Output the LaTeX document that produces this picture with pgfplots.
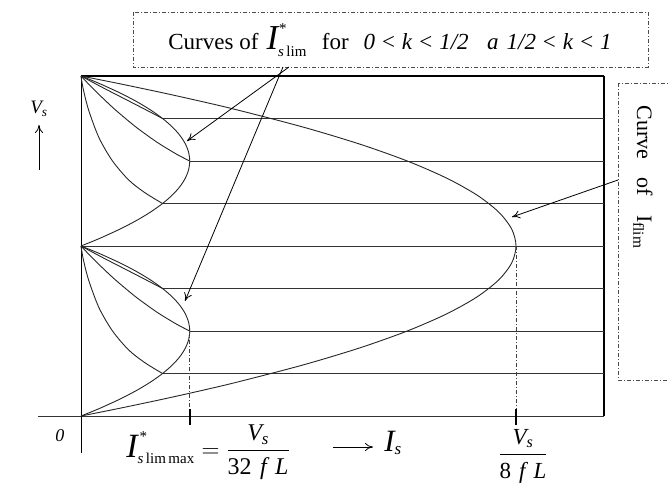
\documentclass[border=0pt]{standalone}
\usepackage{pgfplots}
\pgfplotsset{compat=1.18}
\usepackage{amsmath}
\usepackage{fontspec}
\setmainfont{Liberation Serif}
\usetikzlibrary{arrows.meta}

\begin{document}
\begin{tikzpicture}[x=1pt,y=1pt]
\useasboundingbox (-81,-66) rectangle (587,416);
\begin{axis}[
  at={(0,0)}, anchor=south west,
  scale only axis, width=523pt, height=340pt,
  xmin=0, xmax=4.809, ymin=0, ymax=8,
  hide axis, clip=false,
  curve/.style={black!85, line width=0.9pt, no markers, smooth},
  level/.style={black!80, line width=0.9pt, no markers},
  guide/.style={black!75, line width=0.8pt, no markers,
                dash pattern=on 4pt off 2pt on 1pt off 2pt},
]
% frame and axes
\addplot[black, line width=1.8pt, no markers] coordinates {(0,8) (4.809,8)};
\addplot[black, line width=1.1pt, no markers] coordinates {(4.809,8) (4.809,0)};
\addplot[black!80, line width=1pt, no markers] coordinates {(-0.396,0) (4.809,0)};
\addplot[black, line width=1pt, no markers] coordinates {(0,8) (0,-0.87)};

% constant-voltage levels
\addplot[level] coordinates {(0.75,7) (4.809,7)};
\addplot[level] coordinates {(1,6) (4.809,6)};
\addplot[level] coordinates {(0.75,5) (4.809,5)};
\addplot[level] coordinates {(0,4) (4.809,4)};
\addplot[level] coordinates {(0.75,3) (4.809,3)};
\addplot[level] coordinates {(1,2) (4.809,2)};
\addplot[level] coordinates {(0.75,1) (4.809,1)};

% limit current I_flim
\addplot[curve] coordinates {
 (0,0) (0.1975,0.1) (0.39,0.2) (0.76,0.4) (1.11,0.6) (1.44,0.8) (2.04,1.2)
 (2.56,1.6) (3,2) (3.36,2.4) (3.64,2.8) (3.84,3.2) (3.96,3.6) (4,4)
 (3.96,4.4) (3.84,4.8) (3.64,5.2) (3.36,5.6) (3,6) (2.56,6.4) (2.04,6.8)
 (1.44,7.2) (1.11,7.4) (0.76,7.6) (0.39,7.8) (0.1975,7.9) (0,8)};

% limit current I*_slim, lower half
\addplot[curve] coordinates {
 (0,0) (0.0975,0.1) (0.19,0.2) (0.36,0.4) (0.51,0.6) (0.64,0.8) (0.75,1)
 (0.84,1.2) (0.91,1.4) (0.96,1.6) (0.99,1.8) (1,2) (0.99,2.2) (0.96,2.4)
 (0.91,2.6) (0.84,2.8) (0.75,3) (0.64,3.2) (0.51,3.4) (0.36,3.6) (0.19,3.8)
 (0.0975,3.9) (0,4)};
\addplot[curve] coordinates {(0,4) (0.19,3.74) (0.38,3.49) (0.57,3.24) (0.75,3)};
\addplot[curve] coordinates {
 (0,4) (0.1,3.73) (0.2,3.48) (0.3,3.24) (0.4,3.02) (0.5,2.81) (0.6,2.62)
 (0.7,2.44) (0.8,2.28) (0.9,2.13) (1,2)};
\addplot[curve] coordinates {
 (0,4) (0.02,3.7) (0.07,3.2) (0.165,2.55) (0.29,2.0) (0.44,1.55) (0.59,1.25) (0.75,1)};

% limit current I*_slim, upper half
\addplot[curve] coordinates {
 (0,4) (0.0975,4.1) (0.19,4.2) (0.36,4.4) (0.51,4.6) (0.64,4.8) (0.75,5)
 (0.84,5.2) (0.91,5.4) (0.96,5.6) (0.99,5.8) (1,6) (0.99,6.2) (0.96,6.4)
 (0.91,6.6) (0.84,6.8) (0.75,7) (0.64,7.2) (0.51,7.4) (0.36,7.6) (0.19,7.8)
 (0.0975,7.9) (0,8)};
\addplot[curve] coordinates {(0,8) (0.19,7.74) (0.38,7.49) (0.57,7.24) (0.75,7)};
\addplot[curve] coordinates {
 (0,8) (0.1,7.73) (0.2,7.48) (0.3,7.24) (0.4,7.02) (0.5,6.81) (0.6,6.62)
 (0.7,6.44) (0.8,6.28) (0.9,6.13) (1,6)};
\addplot[curve] coordinates {
 (0,8) (0.02,7.7) (0.07,7.2) (0.165,6.55) (0.29,6.0) (0.44,5.55) (0.59,5.25) (0.75,5)};

% maxima projected to the current axis
\addplot[guide] coordinates {(1,2) (1,0)};
\addplot[guide] coordinates {(4,4) (4,0)};
\addplot[black, line width=1.8pt, no markers] coordinates {(1,0.16) (1,-0.21)};
\addplot[black, line width=1.8pt, no markers] coordinates {(4,0.16) (4,-0.21)};
\end{axis}

\begin{scope}[x=1pt,y=-1pt,shift={(-81pt,416pt)}]
  \tikzset{ptr/.style={-{To[length=8pt,width=8pt]}, line width=0.8pt}}
  % callout frames
  \draw[black!70, line width=0.8pt, dash pattern=on 4pt off 2pt on 1pt off 2pt]
    (133,12) rectangle (648,67);
  \draw[black!70, line width=0.8pt, dash pattern=on 4pt off 2pt on 1pt off 2pt]
    (618,83) rectangle (700,380);
  % pointers
  \draw[ptr] (289,67) -- (187,141);
  \draw[ptr] (283,67) -- (185,301);
  \draw[ptr] (618,180) -- (512,217);
  \draw[ptr] (39,170) -- (39,125);
  \draw[ptr] (333,447) -- (373,447);

  % texts
  \node at (390,40) {\fontsize{23}{26}\selectfont Curves of\hspace{0.35em}%
    $\mbox{\fontsize{35}{37}\selectfont\itshape I}^{\mbox{\fontsize{15}{15}\selectfont\hspace{1pt}*}}_{\mbox{\fontsize{15}{15}\selectfont\itshape s\,\upshape lim}}$\hspace{0.65em}%
    for\hspace{0.65em}\textit{0}\hspace{0.3em}<\hspace{0.3em}\textit{k}\hspace{0.3em}<\hspace{0.3em}\textit{1/2}\hspace{0.8em}\textit{a}\hspace{0.35em}\textit{1/2}\hspace{0.3em}<\hspace{0.3em}\textit{k}\hspace{0.3em}<\hspace{0.3em}\textit{1}};
  \node[rotate=-90] at (643,177) {\fontsize{22}{26}\selectfont Curve\hspace{0.85em}of\hspace{0.85em}I\textsubscript{flim}};
  \node at (39,109) {\fontsize{19}{21}\selectfont\itshape V\textsubscript{s}};
  \node at (60,436) {\fontsize{18}{20}\selectfont\itshape 0};
  \node at (208,452) {\fontsize{24}{28}\selectfont
    $\mbox{\fontsize{34}{36}\selectfont\itshape I}^{\mbox{\fontsize{15}{15}\selectfont\hspace{2pt}*}}_{\mbox{\fontsize{15}{15}\selectfont\itshape s\,\upshape lim\,max}}
     = \dfrac{\mbox{\itshape V\textsubscript{s}}}{\mbox{32\hspace{0.35em}\itshape f\hspace{0.35em}L}}$};
  \node at (393,443) {\fontsize{31}{33}\selectfont\itshape I\textsubscript{\fontsize{17}{17}\selectfont s}};
  \node at (523,456) {\fontsize{23}{27}\selectfont
    $\dfrac{\mbox{\itshape V\textsubscript{s}}}{\mbox{8\hspace{0.35em}\itshape f\hspace{0.35em}L}}$};
\end{scope}
\end{tikzpicture}
\end{document}
